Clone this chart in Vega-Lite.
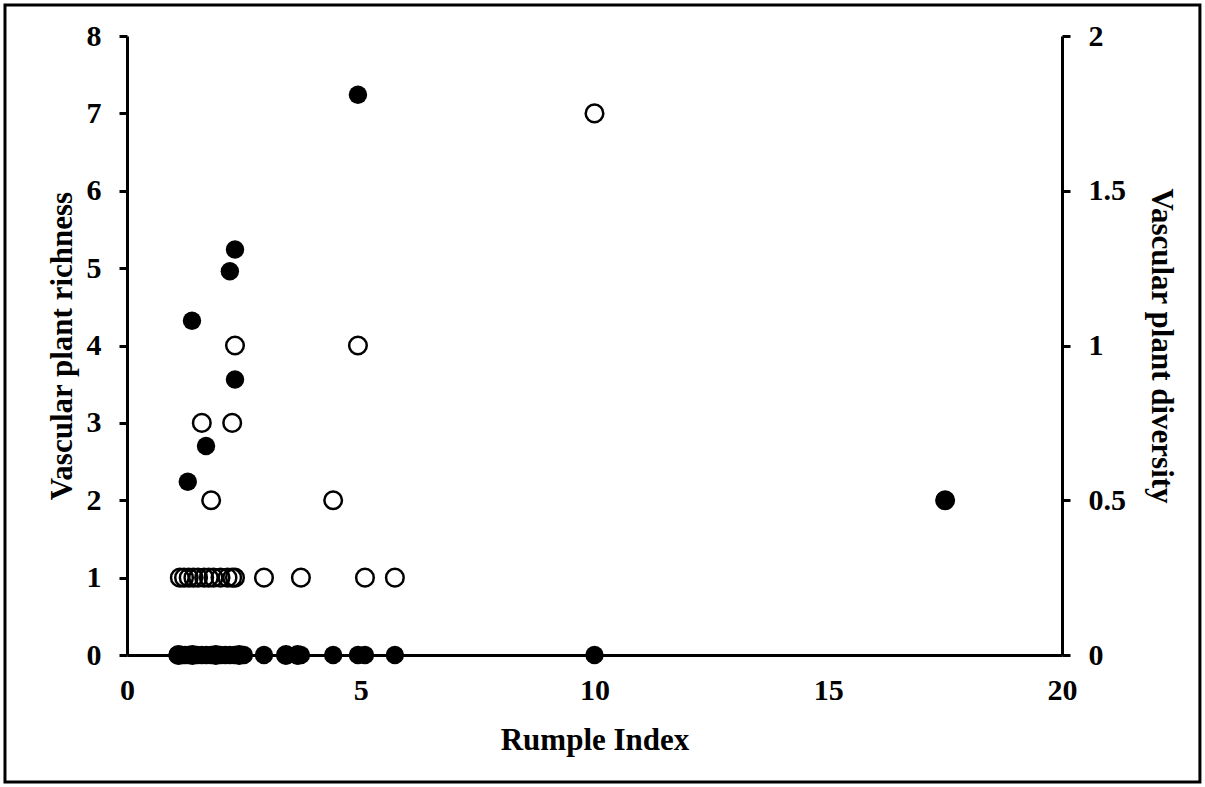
{
  "$schema": "https://vega.github.io/schema/vega-lite/v6.json",
  "width": 935,
  "height": 619,
  "autosize": "none",
  "padding": {"left": 127, "top": 36, "right": 143, "bottom": 132},
  "background": "white",
  "config": {
    "view": {"stroke": null},
    "font": "Liberation Serif",
    "axis": {
      "grid": false,
      "labelFlush": false,
      "labelOverlap": false,
      "domainColor": "black",
      "domainWidth": 3,
      "tickColor": "black",
      "tickWidth": 3,
      "tickSize": 8,
      "labelFont": "Liberation Serif",
      "labelFontWeight": "bold",
      "labelFontSize": 30,
      "labelColor": "black",
      "titleFont": "Liberation Serif",
      "titleFontWeight": "bold",
      "titleFontSize": 31,
      "titleColor": "black"
    }
  },
  "datasets": {
    "richness": [
      {"rumple": 10.0, "richness": 7},
      {"rumple": 2.31, "richness": 4},
      {"rumple": 4.94, "richness": 4},
      {"rumple": 1.60, "richness": 3},
      {"rumple": 2.25, "richness": 3},
      {"rumple": 1.80, "richness": 2},
      {"rumple": 4.41, "richness": 2},
      {"rumple": 1.13, "richness": 1},
      {"rumple": 1.22, "richness": 1},
      {"rumple": 1.32, "richness": 1},
      {"rumple": 1.42, "richness": 1},
      {"rumple": 1.52, "richness": 1},
      {"rumple": 1.65, "richness": 1},
      {"rumple": 1.75, "richness": 1},
      {"rumple": 1.85, "richness": 1},
      {"rumple": 2.00, "richness": 1},
      {"rumple": 2.15, "richness": 1},
      {"rumple": 2.25, "richness": 1},
      {"rumple": 2.31, "richness": 1},
      {"rumple": 2.93, "richness": 1},
      {"rumple": 3.72, "richness": 1},
      {"rumple": 5.09, "richness": 1},
      {"rumple": 5.73, "richness": 1},
      {"rumple": 1.10, "richness": 0},
      {"rumple": 1.40, "richness": 0},
      {"rumple": 1.90, "richness": 0},
      {"rumple": 2.40, "richness": 0},
      {"rumple": 3.40, "richness": 0},
      {"rumple": 3.65, "richness": 0},
      {"rumple": 17.5, "richness": 2}
    ],
    "diversity": [
      {"rumple": 4.94, "diversity": 1.81},
      {"rumple": 2.31, "diversity": 1.31},
      {"rumple": 2.20, "diversity": 1.24},
      {"rumple": 1.39, "diversity": 1.08},
      {"rumple": 2.31, "diversity": 0.89},
      {"rumple": 1.69, "diversity": 0.675},
      {"rumple": 1.30, "diversity": 0.56},
      {"rumple": 17.5, "diversity": 0.5},
      {"rumple": 1.08, "diversity": 0},
      {"rumple": 1.13, "diversity": 0},
      {"rumple": 1.18, "diversity": 0},
      {"rumple": 1.24, "diversity": 0},
      {"rumple": 1.32, "diversity": 0},
      {"rumple": 1.40, "diversity": 0},
      {"rumple": 1.50, "diversity": 0},
      {"rumple": 1.60, "diversity": 0},
      {"rumple": 1.70, "diversity": 0},
      {"rumple": 1.80, "diversity": 0},
      {"rumple": 1.90, "diversity": 0},
      {"rumple": 2.00, "diversity": 0},
      {"rumple": 2.10, "diversity": 0},
      {"rumple": 2.20, "diversity": 0},
      {"rumple": 2.30, "diversity": 0},
      {"rumple": 2.40, "diversity": 0},
      {"rumple": 2.50, "diversity": 0},
      {"rumple": 2.93, "diversity": 0},
      {"rumple": 3.40, "diversity": 0},
      {"rumple": 3.65, "diversity": 0},
      {"rumple": 3.72, "diversity": 0},
      {"rumple": 4.41, "diversity": 0},
      {"rumple": 4.94, "diversity": 0},
      {"rumple": 5.09, "diversity": 0},
      {"rumple": 5.73, "diversity": 0},
      {"rumple": 10.0, "diversity": 0}
    ]
  },
  "layer": [
    {
      "layer": [
        {
          "data": {"name": "richness"},
          "mark": {"type": "point", "shape": "circle", "filled": false, "stroke": "black", "strokeWidth": 2.5, "size": 310, "opacity": 1},
          "encoding": {
            "x": {
              "field": "rumple", "type": "quantitative",
              "scale": {"domain": [0, 20], "nice": false},
              "axis": {"values": [0, 5, 10, 15, 20], "ticks": false, "labelPadding": 20, "title": "Rumple Index", "titlePadding": 20}
            },
            "y": {
              "field": "richness", "type": "quantitative",
              "scale": {"domain": [0, 8], "nice": false},
              "axis": {"values": [0, 1, 2, 3, 4, 5, 6, 7, 8], "labelExpr": "toString(datum.value)", "labelPadding": 18, "title": "Vascular plant richness", "titlePadding": 8}
            }
          }
        },
        {
          "data": {"values": [{}]},
          "mark": {"type": "rect", "fill": null, "stroke": "black", "strokeWidth": 3, "clip": false},
          "encoding": {
            "x": {"datum": -2.61, "type": "quantitative"},
            "x2": {"datum": 22.95},
            "y": {"datum": 8.4, "type": "quantitative"},
            "y2": {"datum": -1.64}
          }
        }
      ]
    },
    {
      "data": {"name": "diversity"},
      "mark": {"type": "circle", "color": "black", "size": 340, "opacity": 1},
      "encoding": {
        "x": {"field": "rumple", "type": "quantitative"},
        "y": {
          "field": "diversity", "type": "quantitative",
          "scale": {"domain": [0, 2], "nice": false},
          "axis": {"orient": "right", "values": [0, 0.5, 1, 1.5, 2], "labelExpr": "toString(datum.value)", "labelPadding": 18, "title": "Vascular plant diversity", "titlePadding": 19}
        }
      }
    }
  ],
  "resolve": {"scale": {"y": "independent"}}
}
